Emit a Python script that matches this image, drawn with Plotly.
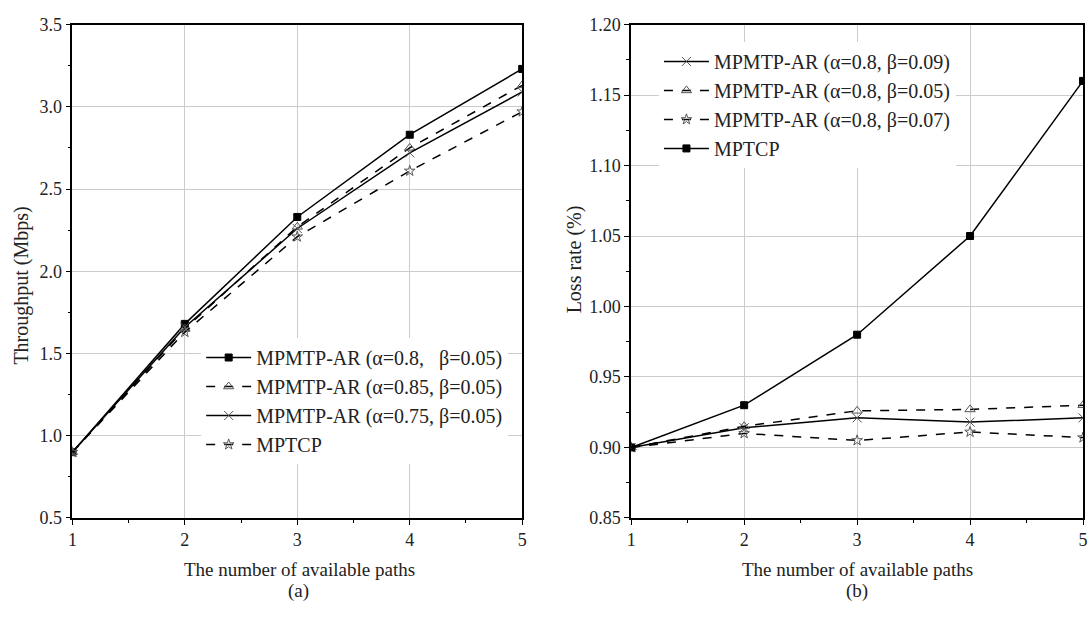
import plotly.graph_objects as go

paths = [1, 2, 3, 4, 5]

# (a) Throughput (Mbps)
thr_a08 = [0.90, 1.68, 2.33, 2.83, 3.23]
thr_a085 = [0.90, 1.65, 2.27, 2.75, 3.13]
thr_a075 = [0.90, 1.66, 2.26, 2.72, 3.09]
thr_mptcp = [0.90, 1.63, 2.21, 2.61, 2.97]

# (b) Loss rate (%)
loss_b009 = [0.900, 0.914, 0.921, 0.918, 0.921]
loss_b005 = [0.900, 0.915, 0.926, 0.927, 0.930]
loss_b007 = [0.900, 0.910, 0.905, 0.911, 0.907]
loss_mptcp = [0.900, 0.930, 0.980, 1.050, 1.160]

W, H = 1090, 617
FONT = "Liberation Serif, Times New Roman, serif"
NBSP = "\u00a0"

fig = go.Figure()

def add(x, y, name, symbol, dash, xa, ya, legend, size=8):
    filled = symbol == "square"
    fig.add_trace(go.Scatter(
        x=x, y=y, name=name, mode="lines+markers",
        line=dict(color="black", width=1.5, dash=dash),
        marker=dict(symbol=symbol, size=size,
                    color="black" if filled else "#555555",
                    line=dict(color="black" if filled else "#555555", width=1)),
        xaxis=xa, yaxis=ya, legend=legend,
    ))

add(paths, thr_a08, "MPMTP-AR (α=0.8," + NBSP * 3 + "β=0.05)", "square", "solid", "x", "y", "legend", 7)
add(paths, thr_a085, "MPMTP-AR (α=0.85, β=0.05)", "triangle-up-open", "dash", "x", "y", "legend", 9)
add(paths, thr_a075, "MPMTP-AR (α=0.75, β=0.05)", "x-thin-open", "solid", "x", "y", "legend", 9)
add(paths, thr_mptcp, "MPTCP", "star-open", "dash", "x", "y", "legend", 8)

add(paths, loss_b009, "MPMTP-AR (α=0.8, β=0.09)", "x-thin-open", "solid", "x2", "y2", "legend2", 9)
add(paths, loss_b005, "MPMTP-AR (α=0.8, β=0.05)", "triangle-up-open", "dash", "x2", "y2", "legend2", 9)
add(paths, loss_b007, "MPMTP-AR (α=0.8, β=0.07)", "star-open", "dash", "x2", "y2", "legend2", 8)
add(paths, loss_mptcp, "MPTCP", "square", "solid", "x2", "y2", "legend2", 7)

ytop = 1 - 15 / H
ybot = 1 - 525 / H

axis_common = dict(
    showline=True, linecolor="black", linewidth=1.5, mirror=True,
    ticks="outside", ticklen=5, tickwidth=1.2, tickcolor="black",
    showgrid=True, gridcolor="#cccccc", gridwidth=1,
    zeroline=False,
    tickfont=dict(family=FONT, size=18, color="#222222"),
    minor=dict(ticks="outside", ticklen=3, tickwidth=1.2, tickcolor="black", showgrid=False),
)

fig.update_layout(
    width=W, height=H,
    margin=dict(l=0, r=0, t=0, b=0),
    paper_bgcolor="white", plot_bgcolor="white",
    font=dict(family=FONT, color="#222222"),
    xaxis=dict(domain=[68 / W, 522 / W], range=[1, 5], tickvals=[1, 2, 3, 4, 5],
               anchor="y", minor_dtick=0.5, **axis_common),
    yaxis=dict(domain=[ybot, ytop], range=[0.5, 3.5], dtick=0.5, tickformat=".1f",
               anchor="x", minor_dtick=0.25, **axis_common),
    xaxis2=dict(domain=[632 / W, 1088 / W], range=[1, 5], tickvals=[1, 2, 3, 4, 5],
                anchor="y2", minor_dtick=0.5, **axis_common),
    yaxis2=dict(domain=[ybot, ytop], range=[0.85, 1.20], dtick=0.05, tickformat=".2f",
                anchor="x2", minor_dtick=0.025, **axis_common),
    legend=dict(x=198 / W, y=1 - 339 / H, xanchor="left", yanchor="top",
                bgcolor="white", borderwidth=0, font=dict(family=FONT, size=20, color="#222222"),
                tracegroupgap=0, itemwidth=45),
    legend2=dict(x=660 / W, y=1 - 33 / H, xanchor="left", yanchor="top",
                 bgcolor="white", borderwidth=0, font=dict(family=FONT, size=20, color="#222222"),
                 tracegroupgap=0, itemwidth=45),
    showlegend=True,
)

ann_font = dict(family=FONT, size=19, color="#222222")
annotations = [
    dict(text="The number of available paths", x=297 / W, y=1 - 578 / H),
    dict(text="(a)", x=296 / W, y=1 - 600 / H),
    dict(text="The number of available paths", x=860 / W, y=1 - 578 / H),
    dict(text="(b)", x=860 / W, y=1 - 600 / H),
    dict(text="Throughput (Mbps)", x=17 / W, y=1 - 285 / H, textangle=-90, font=dict(family=FONT, size=20, color="#222222")),
    dict(text="Loss rate (%)", x=575 / W, y=1 - 258 / H, textangle=-90, font=dict(family=FONT, size=20, color="#222222")),
]
for a in annotations:
    a.setdefault("font", ann_font)
    fig.add_annotation(xref="paper", yref="paper", showarrow=False,
                       xanchor="center", yanchor="middle", **a)

fig.write_html("out.html")
